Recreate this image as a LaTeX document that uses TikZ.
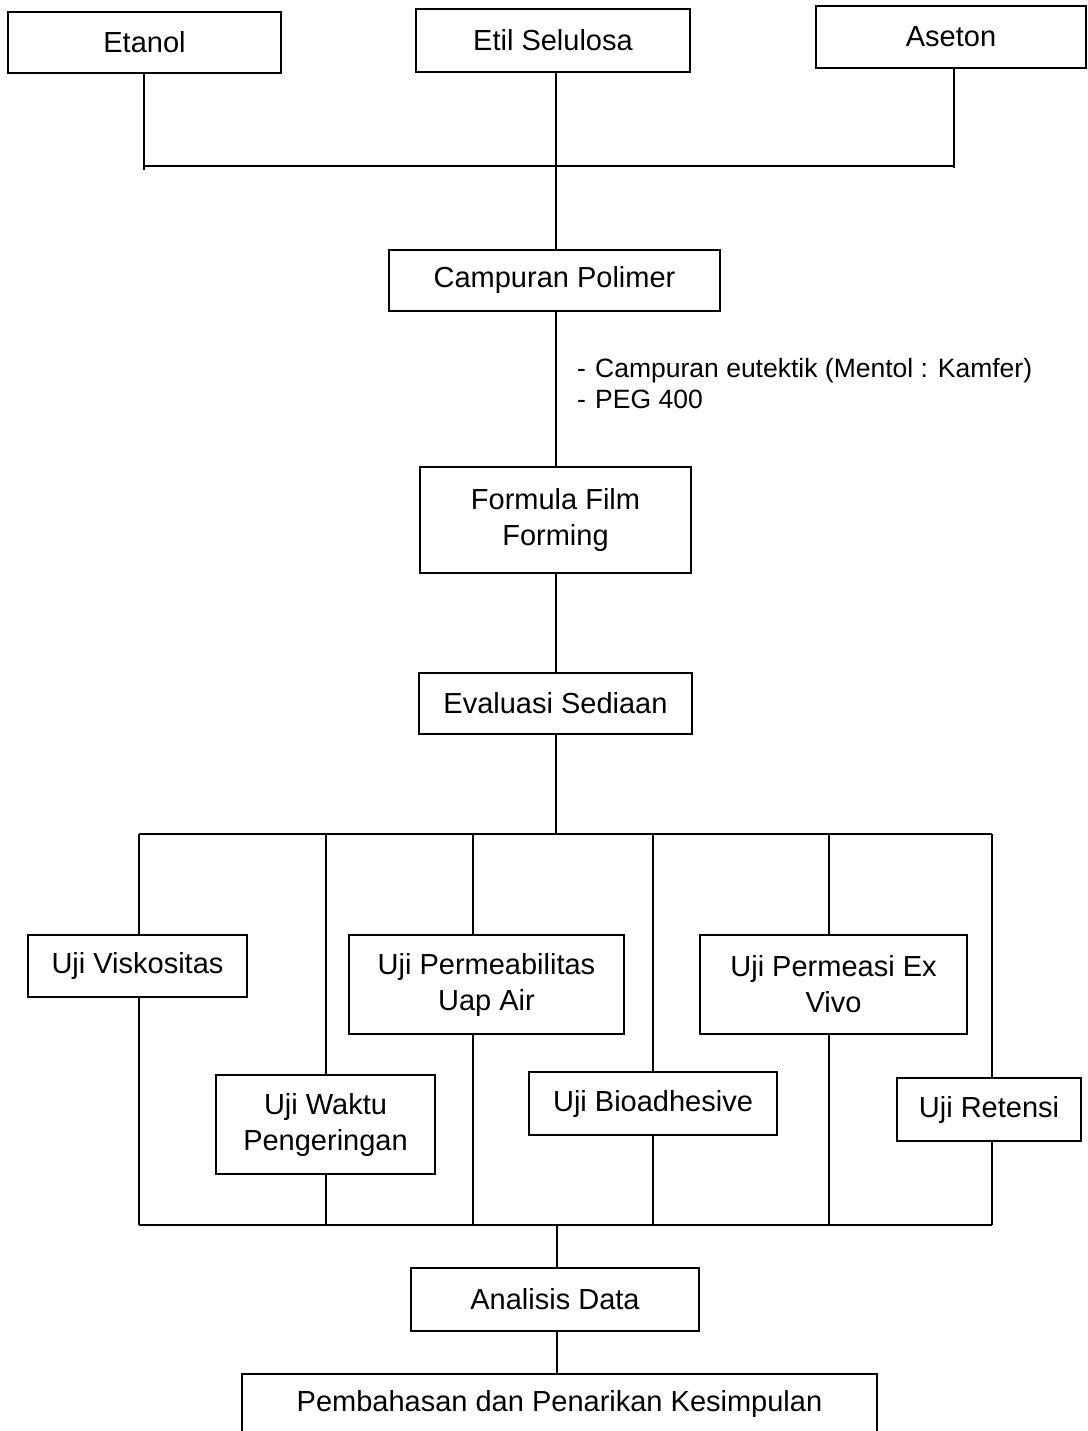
\documentclass[tikz,border=0pt]{standalone}
\usepackage{fontspec}
\setmainfont{Liberation Sans}
\tikzset{
  box/.style={draw, line width=1.8pt, inner sep=0pt, align=center, fill=white,
              font=\fontsize{29}{36}\selectfont},
  link/.style={line width=1.5pt},
  note/.style={inner sep=0pt, align=left, anchor=west,
               font=\fontsize{26.5}{31}\selectfont},
}
\begin{document}
\begin{tikzpicture}[x=1pt,y=-1pt]
\useasboundingbox (0,0) rectangle (1087,1431);

% top inputs
\node[box, minimum width=273pt, minimum height=61pt] (etanol) at (144.5,42.5) {Etanol};
\node[box, minimum width=274pt, minimum height=63pt] (etil) at (553,40.5) {Etil Selulosa};
\node[box, minimum width=270pt, minimum height=62pt] (aseton) at (951,37) {Aseton};

\node[box, minimum width=331pt, minimum height=61pt] (campur) at (554.5,280.5) {Campuran Polimer};
\node[box, minimum width=271pt, minimum height=106pt] (formula) at (555.5,520) {Formula Film\\Forming};
\node[box, minimum width=273pt, minimum height=61pt] (eval) at (555.5,703.5) {Evaluasi Sediaan};

\node[note] (add) at (577,383.5) {\makebox[18pt][l]{-}Campuran eutektik (Mentol : Kamfer)\\\makebox[18pt][l]{-}PEG 400};

% tests
\node[box, minimum width=219pt, minimum height=62pt] (visk) at (137.5,966) {Uji Viskositas};
\node[box, minimum width=275pt, minimum height=99pt] (perm) at (486.5,984.5) {Uji Permeabilitas\\Uap Air};
\node[box, minimum width=267pt, minimum height=99pt] (vivo) at (833.5,984.5) {Uji Permeasi Ex\\Vivo};
\node[box, minimum width=219pt, minimum height=99pt] (waktu) at (325.5,1124.5) {Uji Waktu\\Pengeringan};
\node[box, minimum width=248pt, minimum height=63pt] (bio) at (653,1103.5) {Uji Bioadhesive};
\node[box, minimum width=184pt, minimum height=63pt] (ret) at (989,1109.5) {Uji Retensi};

\node[box, minimum width=288pt, minimum height=63pt] (analisis) at (555,1299.5) {Analisis Data};
\node[box, minimum width=635pt, minimum height=60pt] (bahas) at (559.5,1404) {Pembahasan dan Penarikan Kesimpulan};

% top junction
\coordinate (jL) at (144,166);
\coordinate (jR) at (954,166);
\coordinate (jC) at (556,166);
\draw[link] (etanol.south -| jL) -- (144,170);
\draw[link] (aseton.south -| jR) -- (954,168);
\draw[link] (jL) -- (jR);
\draw[link] (etil.south -| jC) -- (campur.north -| jC);
\draw[link] (campur.south -| jC) -- (formula.north -| jC);
\draw[link] (formula.south -| jC) -- (eval.north -| jC);

% test buses
\coordinate (busT) at (556,834);
\coordinate (busB) at (557,1225);
\draw[link] (eval.south -| busT) -- (busT);
\draw[link] (139,834) -- (992,834);
\draw[link] (139,1225) -- (992,1225);
\foreach \n/\c in {visk/139, waktu/326, perm/473, bio/653, vivo/829, ret/992} {
  \coordinate (t\n) at (\c,834);
  \coordinate (b\n) at (\c,1225);
  \draw[link] (t\n) -- (\n.north -| t\n);
  \draw[link] (\n.south -| b\n) -- (b\n);
}
\draw[link] (busB) -- (analisis.north -| busB);
\draw[link] (analisis.south -| busB) -- (bahas.north -| busB);
\end{tikzpicture}
\end{document}
